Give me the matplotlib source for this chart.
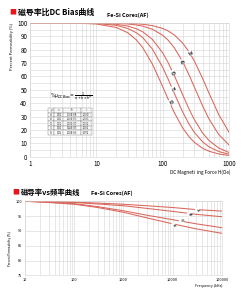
import numpy as np
import matplotlib.pyplot as plt
from matplotlib.ticker import FuncFormatter, LogLocator, MultipleLocator, NullFormatter

plt.rcParams['font.family'] = ['Noto Sans CJK SC', 'DejaVu Sans']

# DC bias chart: H (Oe) vs percent permeability
h_pts = [1, 5, 10, 20, 30, 40, 50, 70, 100, 120, 150, 200, 250, 300, 400, 500, 700, 1000]
bias_26 = [100, 100, 100, 99.8, 99.6, 99.3, 98.9, 97.9, 95.8, 94.0, 90.9, 84.9, 78.3, 71.5, 58.5, 47.4, 31.5, 18.4]
bias_40 = [100, 100, 99.9, 99.6, 99.1, 98.4, 97.5, 95.2, 90.7, 87.2, 81.3, 71.0, 61.1, 52.1, 38.0, 28.2, 16.7, 8.9]
bias_60 = [100, 100, 99.7, 98.9, 97.5, 95.6, 93.3, 87.6, 77.6, 70.6, 60.6, 46.4, 35.6, 27.8, 17.8, 12.2, 6.6, 3.3]
bias_75 = [100, 99.9, 99.5, 98.1, 95.7, 92.6, 89.0, 80.4, 66.8, 58.3, 47.3, 33.5, 24.4, 18.3, 11.2, 7.5, 4.0, 2.0]
bias_90 = [100, 99.8, 99.1, 96.5, 92.5, 87.3, 81.5, 69.2, 52.4, 43.4, 32.9, 21.6, 15.0, 10.9, 6.4, 4.2, 2.2, 1.1]
bias_names = ['26', '40', '60', '75', '90']
bias_lab_h = [251, 194, 140, 140, 129]
bias_lab_p = [77, 70.6, 62.5, 50.5, 40.5]

# coefficient table shown in the chart
tab_head = ['μ', 'a', 'b', 'c']
tab_rows = [['26', '0.01', '3.30E-08', '2.050'],
            ['40', '0.01', '1.05E-07', '2.003'],
            ['60', '0.01', '3.01E-07', '1.982'],
            ['75', '0.01', '5.42E-07', '1.991'],
            ['90', '0.01', '1.01E-06', '1.972']]

# frequency chart: kHz vs percent permeability
freq = [10, 30, 100, 300, 1000, 3000, 10000, 30000, 100000]
freq_26 = [100, 99.9, 99.7, 99.4, 99.0, 98.5, 97.9, 97.2, 96.7]
freq_40 = [100, 99.85, 99.6, 99.1, 98.5, 97.6, 96.6, 95.6, 94.8]
freq_60 = [100, 99.7, 99.2, 98.2, 96.8, 95.3, 93.8, 92.4, 91.1]
freq_90 = [100, 99.6, 99.0, 97.9, 96.3, 94.4, 92.4, 90.7, 89.2]
freq_names = ['26', '40', '60', '90']
freq_lab_f = [32000, 22000, 15000, 10500]
freq_lab_p = [97.06, 95.6, 93.4, 92.0]

red = '#d9665a'
grid = '#d4d4d4'

fig = plt.figure(figsize=(2.46, 3.0), dpi=100)

def style(ax, lsize):
    ax.set_xscale('log')
    ax.xaxis.set_minor_locator(LogLocator(base=10, subs=range(2, 10)))
    ax.xaxis.set_minor_formatter(NullFormatter())
    ax.xaxis.set_major_formatter(FuncFormatter(lambda v, _: f'{int(round(v))}'))
    ax.grid(which='both', color=grid, lw=0.4)
    ax.tick_params(which='both', length=0, labelsize=lsize, pad=2)
    for s in ax.spines.values():
        s.set_color(grid)
        s.set_linewidth(0.4)
    ax.set_axisbelow(True)

# ---- top chart
ax1 = fig.add_axes([0.122, 0.477, 0.809, 0.447])
style(ax1, 4.5)
for y in [bias_26, bias_40, bias_60, bias_75, bias_90]:
    ax1.plot(h_pts, y, color=red, lw=0.75)
for n, hx, py in zip(bias_names, bias_lab_h, bias_lab_p):
    ax1.text(hx, py, n, fontsize=3.0, rotation=-62, ha='center', va='center', color='#444444',
             weight='bold', bbox=dict(fc='white', ec='none', pad=0.2))
ax1.set_xlim(1, 1000)
ax1.set_ylim(0, 100)
ax1.set_yticks(range(0, 101, 10))
ax1.yaxis.set_minor_locator(MultipleLocator(5))

ax1.text(0.1, 0.45, r'$\%\mu_{DCBias}=\frac{1}{a+b\times H^c}$', transform=ax1.transAxes,
         fontsize=3.3, va='center')
tb = ax1.table(cellText=tab_rows, colLabels=tab_head, cellLoc='center',
               colWidths=[0.15, 0.2, 0.4, 0.25], bbox=[0.09, 0.164, 0.22, 0.2])
tb.auto_set_font_size(False)
tb.set_fontsize(1.8)
for c in tb.get_celld().values():
    c.set_edgecolor('#777777')
    c.set_linewidth(0.3)

fig.text(12 / 246, 1 - 23 / 300, 'Percent Permeability (%)', rotation=90, fontsize=2.9,
         ha='center', va='top')
fig.text(0.935, 1 - 172 / 300, 'DC Magneti  ing Force H(Oe)', fontsize=3.4, ha='right', va='center')

fig.text(9 / 246, 1 - 12 / 300, '■', color='#e8161b', fontsize=5, va='center')
fig.text(18 / 246, 1 - 12 / 300, '磁导率比DC Bias曲线', fontsize=5.7, weight='bold', va='center')
fig.text(107 / 246, 1 - 15 / 300, 'Fe-Si Cores(AF)', fontsize=4, weight='bold', va='center')

# ---- bottom chart
ax2 = fig.add_axes([0.102, 0.082, 0.80, 0.247])
style(ax2, 2.8)
for y in [freq_26, freq_40, freq_60, freq_90]:
    ax2.plot(freq, y, color=red, lw=0.75)
for n, fx, py in zip(freq_names, freq_lab_f, freq_lab_p):
    ax2.text(fx, py, n, fontsize=2.4, rotation=-70, ha='center', va='center', color='#444444',
             weight='bold', bbox=dict(fc='white', ec='none', pad=0.2))
ax2.set_xlim(10, 100000)
ax2.set_ylim(75, 100)
ax2.set_yticks(range(75, 101, 5))

fig.text(10 / 246, 1 - 249 / 300, 'Percent Permeability (%)', rotation=90, fontsize=2.2,
         ha='center', va='center')
fig.text(0.905, 1 - 286 / 300, 'Frequency (kHz)', fontsize=2.6, ha='right', va='center')

fig.text(12 / 246, 1 - 192 / 300, '■', color='#e8161b', fontsize=5, va='center')
fig.text(21 / 246, 1 - 192 / 300, '磁导率vs频率曲线', fontsize=5.3, weight='bold', va='center')
fig.text(91 / 246, 1 - 193 / 300, 'Fe-Si Cores(AF)', fontsize=4, weight='bold', va='center')

fig.savefig('out.png', dpi=100)
